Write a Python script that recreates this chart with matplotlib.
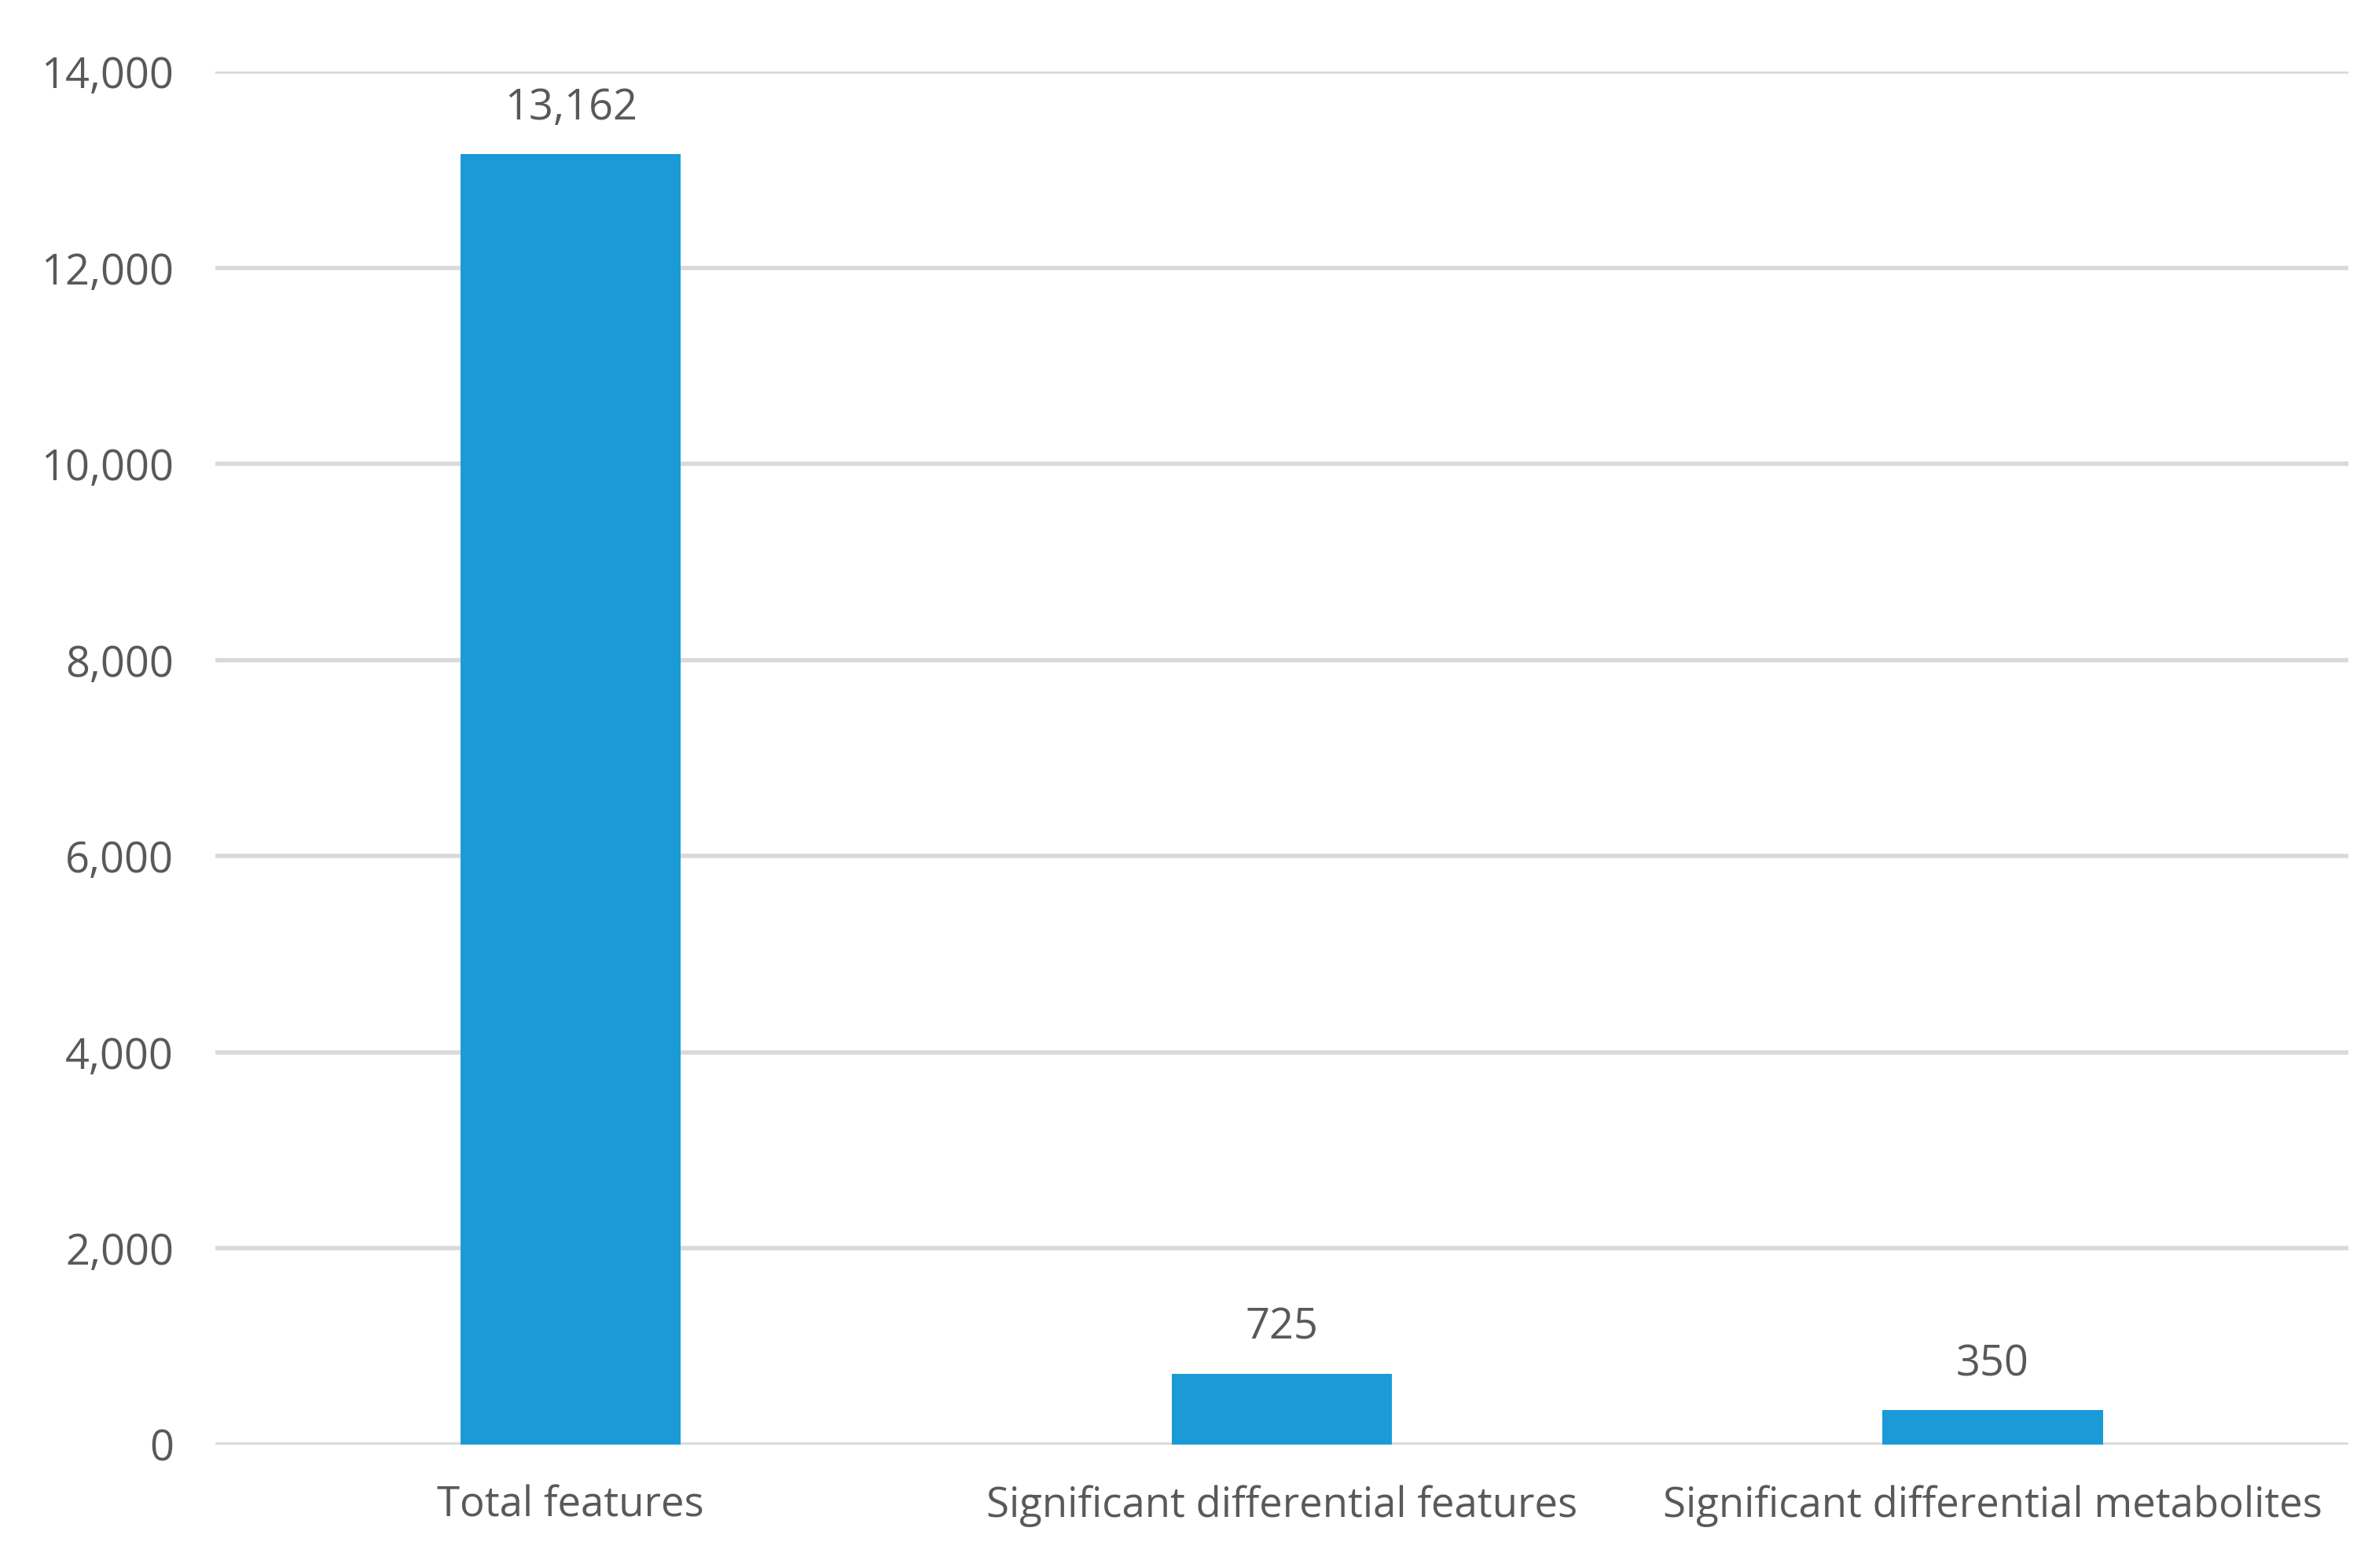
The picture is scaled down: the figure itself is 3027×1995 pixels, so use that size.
import numpy as np
import matplotlib
matplotlib.use("Agg")
import matplotlib.pyplot as plt

# data
categories = ["Total features", "Significant differential features", "Significant differential metabolites"]
counts = [13162, 725, 350]
y_ticks = [0, 2000, 4000, 6000, 8000, 10000, 12000, 14000]

# a. styling
plt.rcParams['font.family'] = ['Open Sans', 'DejaVu Sans']
text_color = "#595959"
bar_color = "#1A9BD7"
grid_color = "#D9D9D9"

# b. figure and axes
fig = plt.figure(figsize=(30.27, 19.95), dpi=100)
ax = fig.add_axes([0.0905, 0.0787, 0.8965, 0.8757])

x = np.arange(len(categories))
ax.bar(x, counts, width=0.31, color=bar_color, zorder=3)

# c. value labels
for xi, v in zip(x, counts):
    ax.annotate(f"{v:,}", (xi, v), xytext=(0, 22), textcoords="offset points",
                ha="center", va="bottom", fontsize=39, color=text_color)

# d. axes
ax.set_xlim(-0.5, len(categories) - 0.5)
ax.set_ylim(0, 14000)
ax.set_yticks(y_ticks)
ax.set_yticklabels([f"{t:,}" for t in y_ticks])
ax.set_xticks(x)
ax.set_xticklabels(categories)
ax.tick_params(axis="y", length=0, pad=38, labelsize=39, labelcolor=text_color)
ax.tick_params(axis="x", length=0, pad=37, labelsize=38, labelcolor=text_color)
ax.grid(axis="y", color=grid_color, linewidth=4, zorder=0)
for s in ax.spines.values():
    s.set_visible(False)

fig.savefig("out.png", dpi=100, facecolor="white")
